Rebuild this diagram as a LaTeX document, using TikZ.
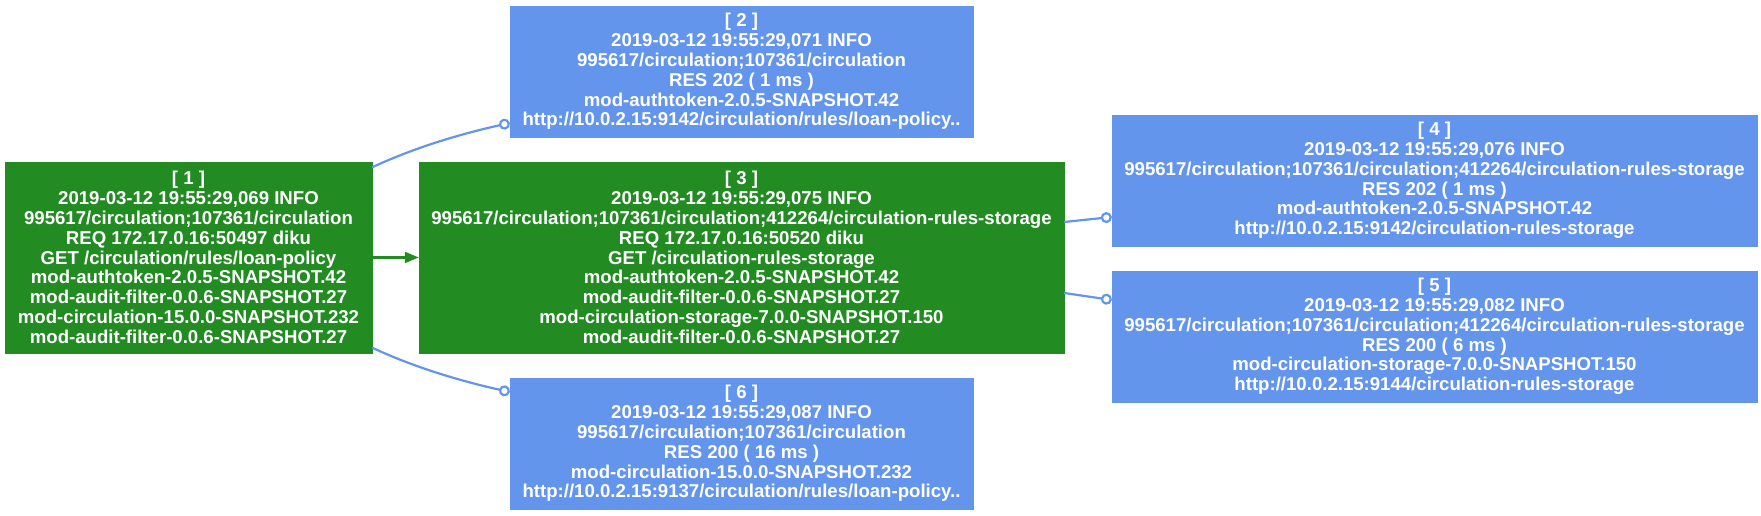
\documentclass[tikz,border=0pt]{standalone}
\usepackage{fontspec}
\setmainfont{Liberation Sans}
\usetikzlibrary{arrows.meta}
\definecolor{reqG}{RGB}{34,139,34}
\definecolor{resB}{RGB}{100,149,237}

\begin{document}
\begin{tikzpicture}[x=1pt,y=1pt,
   font=\bfseries\fontsize{18.6}{19.8}\selectfont,
   lg/.style={rectangle,draw=#1,fill=#1,text=white,align=center,inner sep=0pt},
   req/.style={lg=reqG,minimum height=191pt},
   res/.style={lg=resB,minimum height=131pt},
   call/.style={draw=reqG,line width=2.2pt,-{Triangle[length=14pt,width=11pt]}},
   lnk/.style={draw=resB,line width=2.2pt,-{Circle[open,length=11pt,width=11pt]}}]
\useasboundingbox (0,0) rectangle (1761,516);
%% ---- requests (green) ----
\node[req,minimum width=367pt] (e1) at (188.5,258.5) {[ 1 ]\\2019-03-12 19:55:29,069 INFO\\995617/circulation;107361/circulation\\REQ 172.17.0.16:50497 diku\\GET /circulation/rules/loan-policy\\mod-authtoken-2.0.5-SNAPSHOT.42\\mod-audit-filter-0.0.6-SNAPSHOT.27\\mod-circulation-15.0.0-SNAPSHOT.232\\mod-audit-filter-0.0.6-SNAPSHOT.27};
\node[req,minimum width=645pt] (e3) at (741.5,258.5) {[ 3 ]\\2019-03-12 19:55:29,075 INFO\\995617/circulation;107361/circulation;412264/circulation-rules-storage\\REQ 172.17.0.16:50520 diku\\GET /circulation-rules-storage\\mod-authtoken-2.0.5-SNAPSHOT.42\\mod-audit-filter-0.0.6-SNAPSHOT.27\\mod-circulation-storage-7.0.0-SNAPSHOT.150\\mod-audit-filter-0.0.6-SNAPSHOT.27};
%% ---- responses (blue) ----
\node[res,minimum width=463pt] (e2) at (741.5,444.5) {[ 2 ]\\2019-03-12 19:55:29,071 INFO\\995617/circulation;107361/circulation\\RES 202 ( 1 ms )\\mod-authtoken-2.0.5-SNAPSHOT.42\\http://10.0.2.15:9142/circulation/rules/loan-policy..};
\node[res,minimum width=463pt] (e6) at (741.5,72.5) {[ 6 ]\\2019-03-12 19:55:29,087 INFO\\995617/circulation;107361/circulation\\RES 200 ( 16 ms )\\mod-circulation-15.0.0-SNAPSHOT.232\\http://10.0.2.15:9137/circulation/rules/loan-policy..};
\node[res,minimum width=645pt] (e4) at (1434.5,335.5) {[ 4 ]\\2019-03-12 19:55:29,076 INFO\\995617/circulation;107361/circulation;412264/circulation-rules-storage\\RES 202 ( 1 ms )\\mod-authtoken-2.0.5-SNAPSHOT.42\\http://10.0.2.15:9142/circulation-rules-storage};
\node[res,minimum width=645pt] (e5) at (1434.5,179.5) {[ 5 ]\\2019-03-12 19:55:29,082 INFO\\995617/circulation;107361/circulation;412264/circulation-rules-storage\\RES 200 ( 6 ms )\\mod-circulation-storage-7.0.0-SNAPSHOT.150\\http://10.0.2.15:9144/circulation-rules-storage};
%% ---- edges ----
\draw[call] (e1) -- (e3);
\draw[lnk] ([yshift=-5.5pt]e1.north east) .. controls +(45,21) and +(-45,-10) .. ([yshift=-51.5pt]e2.west);
\draw[lnk] ([yshift=5.5pt]e1.south east) .. controls +(45,-21) and +(-45,10) .. ([yshift=51.5pt]e6.west);
\draw[lnk] ([yshift=35.5pt]e3.east) -- ([yshift=-36.5pt]e4.west);
\draw[lnk] ([yshift=-35.5pt]e3.east) -- ([yshift=36.5pt]e5.west);
\end{tikzpicture}
\end{document}
